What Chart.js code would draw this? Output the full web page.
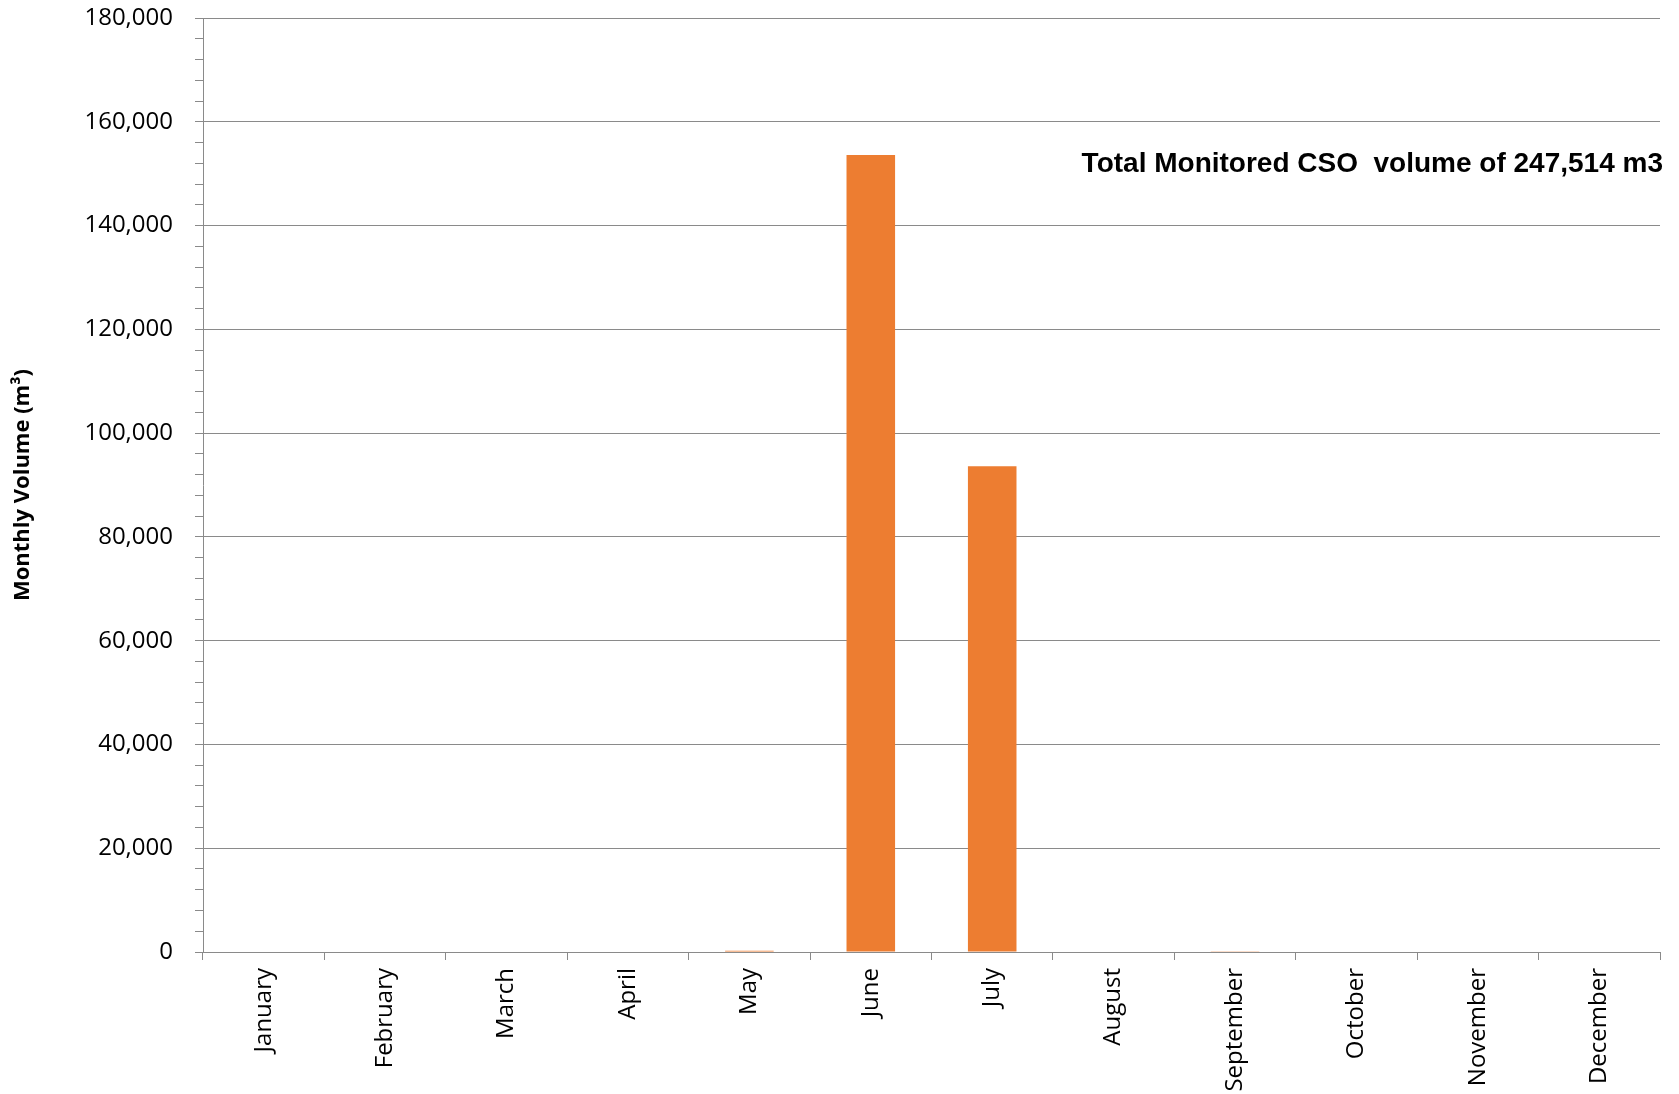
<!DOCTYPE html>
<html>
<head>
<meta charset="utf-8">
<title>Monthly CSO Volume</title>
<script src="https://cdn.jsdelivr.net/npm/chart.js@4.4.0/dist/chart.umd.min.js"></script>
<style>
  html, body { margin: 0; padding: 0; background: #fff; }
  #wrap { width: 1679px; height: 1094px; }
</style>
</head>
<body>
<div id="wrap">
  <canvas id="volumeChart" width="1679" height="1094"></canvas>
</div>
<script>
// datos
const months = ["January", "February", "March", "April", "May", "June",
  "July", "August", "September", "October", "November", "December"];
const monthlyVolume = [0, 0, 0, 0, 250, 153600, 93600, 0, 64, 0, 0, 0];
const yMax = 180000;
const yMajorStep = 20000;
const yMinorStep = 4000;
const totalLabel = "Total Monitored CSO  volume of 247,514 m3";
const totalLabelAt = 151800; // altura del texto en unidades del eje

const axisGrey = "#8a8a8a";

// texto del total, dibujado encima del grafico
const totalTextPlugin = {
  id: "totalText",
  afterDraw(chart) {
    const ctx = chart.ctx;
    const y = chart.scales.y.getPixelForValue(totalLabelAt);
    ctx.save();
    ctx.font = 'bold 28px "Liberation Sans", Arial, sans-serif';
    ctx.fillStyle = "#000";
    ctx.textAlign = "right";
    ctx.textBaseline = "middle";
    ctx.fillText(totalLabel, chart.chartArea.right + 3, y);
    ctx.restore();
  },
};

const ctx = document.getElementById("volumeChart").getContext("2d");
new Chart(ctx, {
  type: "bar",
  data: {
    labels: months,
    datasets: [
      {
        label: "Monthly Volume",
        data: monthlyVolume,
        backgroundColor: "#ED7D31",
        borderWidth: 0,
        categoryPercentage: 1,
        barPercentage: 0.4,
      },
    ],
  },
  options: {
    responsive: false,
    animation: false,
    layout: { padding: { top: 18, right: 19, left: 0, bottom: 0 } },
    plugins: {
      legend: { display: false },
      tooltip: { enabled: false },
    },
    scales: {
      x: {
        grid: {
          offset: true,
          drawOnChartArea: false,
          color: axisGrey,
          tickLength: 8,
        },
        border: { color: axisGrey, width: 1 },
        ticks: {
          minRotation: 90,
          maxRotation: 90,
          autoSkip: false,
          padding: 8,
          color: "#000",
          font: { family: '"Open Sans", sans-serif', size: 24 },
        },
        afterFit: (scale) => {
          scale.height = 142;
          scale.paddingLeft = 0;
          scale.paddingRight = 0;
        },
      },
      y: {
        min: 0,
        max: yMax,
        border: { color: axisGrey, width: 1 },
        grid: {
          color: (c) => (c.tick && c.tick.value % yMajorStep === 0 ? axisGrey : "rgba(0,0,0,0)"),
          tickColor: axisGrey,
          tickLength: 8,
        },
        ticks: {
          stepSize: yMinorStep,
          autoSkip: false,
          padding: 22,
          color: "#000",
          font: { family: '"Open Sans", sans-serif', size: 24 },
          callback: (v) => (v % yMajorStep === 0 ? v.toLocaleString("en-US") : ""),
        },
        title: {
          display: true,
          text: "Monthly Volume (m\u00B3)",
          color: "#000",
          font: { family: '"Open Sans", sans-serif', size: 22, weight: "bold" },
          padding: { top: 10, bottom: 0 },
        },
        afterFit: (scale) => {
          scale.width = 203;
          scale.paddingTop = 0;
          scale.paddingBottom = 0;
        },
      },
    },
  },
  plugins: [totalTextPlugin],
});
</script>
</body>
</html>
